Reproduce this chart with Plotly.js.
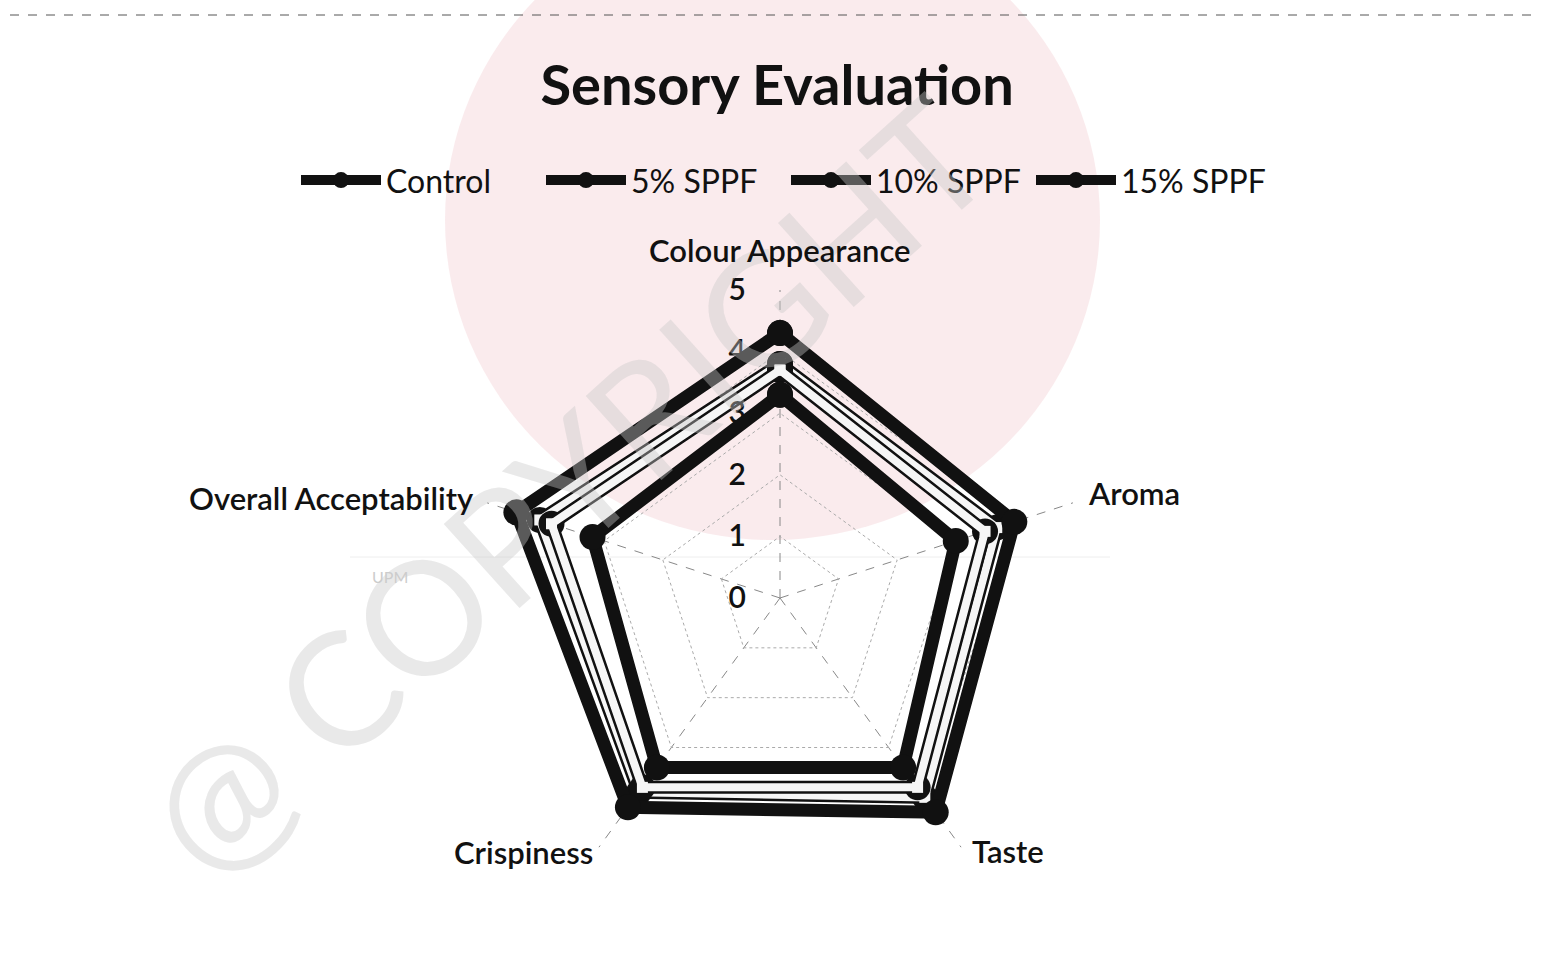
<!DOCTYPE html>
<html>
<head>
<meta charset="utf-8">
<script src="https://cdn.plot.ly/plotly-3.0.1.min.js"></script>
<style>html,body{margin:0;padding:0;background:#fff;}#chart{width:1545px;height:969px;}</style>
</head>
<body>
<div id="chart"></div>
<script>
const categories = ["Colour Appearance", "Aroma", "Taste", "Crispiness", "Overall Acceptability"];
const seriesNames = ["Control", "5% SPPF", "10% SPPF", "15% SPPF"];
const control = [4.3, 4.0, 4.3, 4.2, 4.5];
const sppf5 = [3.3, 3.0, 3.4, 3.4, 3.2];
const sppf10 = [3.8, 3.7, 4.0, 3.9, 4.1];
const sppf15 = [3.7, 3.5, 3.8, 3.8, 3.9];
const radialTicks = [0, 1, 2, 3, 4, 5];

const FONT = "Lato, 'Liberation Sans', sans-serif";
function closed(a){ return a.concat([a[0]]); }
const theta = closed(categories);

function darkTrace(name, vals, rank){
  return {type:"scatterpolar", r: closed(vals), theta: theta, name: name, mode:"lines+markers",
    line:{color:"#111", width:13}, marker:{color:"#111", size:26}, legendrank: rank, legendgroup:name};
}
function lightTrace(name, vals){
  return {type:"scatterpolar", r: closed(vals), theta: theta, name: name, mode:"lines+markers",
    line:{color:"#f6f6f6", width:8}, marker:{color:"#f6f6f6", size:11, symbol:"square"}, showlegend:false, legendgroup:name, hoverinfo:"skip"};
}

const data = [
  darkTrace(seriesNames[2], sppf10, 3),
  lightTrace(seriesNames[2], sppf10),
  darkTrace(seriesNames[3], sppf15, 4),
  lightTrace(seriesNames[3], sppf15),
  darkTrace(seriesNames[0], control, 1),
  darkTrace(seriesNames[1], sppf5, 2)
];

const W = 1545, H = 969, cx = 780, cy = 598, R = 308;

// category labels placed beside the outer ring vertices (Excel-style)
const labelOffsets = [
  {dx:0, dy:-19, xa:"center", ya:"bottom"},
  {dx:13, dy:-10, xa:"left", ya:"middle"},
  {dx:9, dy:4, xa:"left", ya:"middle"},
  {dx:-4, dy:5, xa:"right", ya:"middle"},
  {dx:-11, dy:-5, xa:"right", ya:"middle"}
];
const catAnnotations = categories.map(function(c, i){
  const a = (90 - 72*i) * Math.PI/180;
  const vx = cx + R*Math.cos(a), vy = cy - R*Math.sin(a);
  const o = labelOffsets[i];
  return {text:c, xref:"paper", yref:"paper", x:(vx+o.dx)/W, y:(H-(vy+o.dy))/H, xanchor:o.xa, yanchor:o.ya,
    showarrow:false, font:{family:FONT, size:31, color:"#111", weight:600}};
});

const layout = {
  width: W, height: H,
  margin:{l:0,r:0,t:0,b:0},
  paper_bgcolor:"#fff",
  font:{family: FONT, color:"#111"},
  title:{text:"Sensory Evaluation", font:{family: FONT, size:56, color:"#111", weight:700}, x:0.503, xanchor:"center", y:0.912, yanchor:"middle"},
  showlegend:true,
  legend:{orientation:"h", x:296/W, xanchor:"left", y:0.814, yanchor:"middle", font:{family:FONT, size:32, color:"#111"},
    itemwidth:80, entrywidth:150, entrywidthmode:"pixels", traceorder:"normal", bgcolor:"rgba(0,0,0,0)"},
  polar:{
    domain:{x:[(cx-R)/W, (cx+R)/W], y:[(H-cy-R)/H, (H-cy+R)/H]},
    bgcolor:"rgba(0,0,0,0)",
    gridshape:"linear",
    angularaxis:{rotation:90, direction:"clockwise", showline:false, showticklabels:false, ticks:"",
      gridcolor:"#888", griddash:"dash", gridwidth:1},
    radialaxis:{range:[0,5], tickvals: radialTicks, angle:90, side:"counterclockwise", showline:false,
      gridcolor:"#aaa", griddash:"dot", gridwidth:1, ticks:"outside", ticklen:23, tickcolor:"rgba(0,0,0,0)",
      tickfont:{family:FONT, size:30, color:"#111", weight:600}, tickangle:90}
  },
  shapes:[
    {type:"circle", xref:"paper", yref:"paper", layer:"below", x0:445/W, x1:1100/W, y0:(H-540)/H, y1:(H+100)/H,
      fillcolor:"rgba(240,190,196,0.3)", line:{width:0}},
    {type:"line", xref:"paper", yref:"paper", layer:"below", x0:350/W, x1:1110/W, y0:(H-557)/H, y1:(H-557)/H, line:{color:"#eee", width:1}},
    {type:"line", xref:"paper", yref:"paper", layer:"below", x0:10/W, x1:1540/W, y0:(H-15)/H, y1:(H-15)/H, line:{color:"#555", width:1, dash:"dash"}}
  ],
  annotations:[
    {text:"@ COPYRIGHT", xref:"paper", yref:"paper", x:565/W, y:(H-485)/H, showarrow:false, textangle:-42,
      font:{family:FONT, size:158, color:"rgba(200,200,200,0.4)"}},
    {text:"UPM", xref:"paper", yref:"paper", x:370/W, y:(H-577)/H, showarrow:false, font:{family:FONT, size:16, color:"#ccc"}}
  ].concat(catAnnotations)
};
Plotly.newPlot("chart", data, layout, {displayModeBar:false, responsive:false});
</script>
</body>
</html>
